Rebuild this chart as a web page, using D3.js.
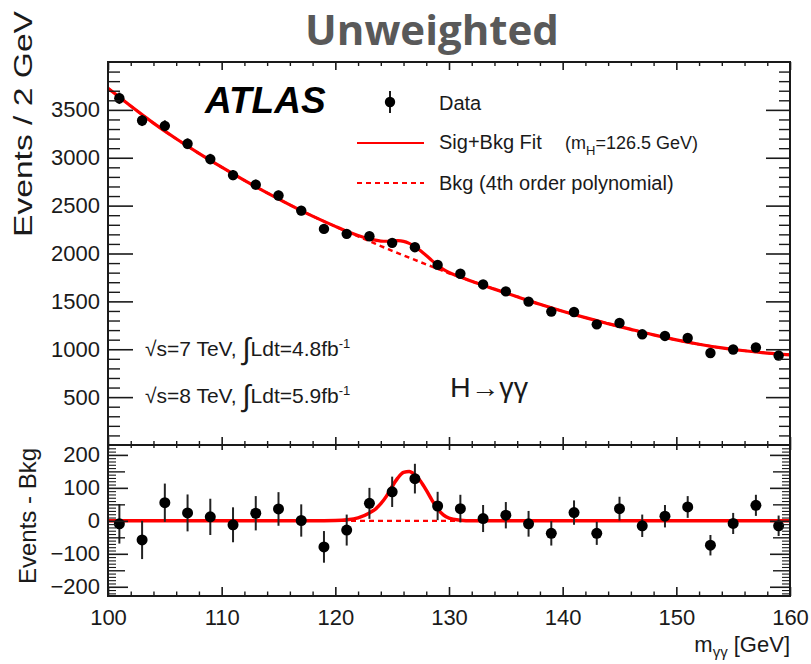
<!DOCTYPE html>
<html>
<head>
<meta charset="utf-8">
<script src="https://cdn.jsdelivr.net/npm/d3@7"></script>
<style>
  body { margin: 0; background: #fff; }
  svg text { font-family: 'Liberation Sans', Arial, Helvetica, sans-serif; }
</style>
</head>
<body>
<svg id="chart" width="811" height="664"></svg>
<script>
// ---- data: diphoton invariant mass, 2 GeV bins ----
const binCenters = [101,103,105,107,109,111,113,115,117,119,121,123,125,127,129,
                    131,133,135,137,139,141,143,145,147,149,151,153,155,157,159];
const eventCounts = [3621,3389,3333,3146,2986,2819,2719,2606,2448,2257,2205,2180,2111,2066,1881,
                     1788,1677,1604,1497,1393,1389,1260,1274,1156,1139,1118,961,997,1018,934];
const countErrors = [60,58,58,56,55,53,52,51,49,48,47,47,46,45,43,
                     42,41,40,39,37,37,35,36,34,34,33,31,32,32,31];
const residuals = [-9,-58,55,24,12,-12,23,36,1,-79,-28,53,88,128,45,
                   37,7,17,-9,-38,25,-38,37,-15,14,42,-74,-8,47,-15];

// ---- fit curves (background polynomial and signal component) ----
const fitMass = [100,102,104,106,108,110,112,114,116,118,120,121,122,123,123.5,124,124.5,125,125.5,
                 126,126.5,127,127.5,128,128.5,129,129.5,130,131,132,134,136,138,140,142,144,146,
                 148,150,152,154,156,158,160];
const bkgFit = [3725,3540,3362,3198,3046,2902,2764,2633,2508,2390,2282,2230,2180,2129,2104,2078,2053,2028,2004,
                1980,1956,1933,1909,1886,1863,1840,1817,1794,1752,1710,1628,1548,1470,1397,1330,1268,1208,
                1150,1098,1052,1014,984,960,942];
const sigFit = [0,0,0,0,0,0,0,0,0,0,1,3,9,24,35,52,75,104,130,
                147,150,140,120,93,63,36,18,8,2,0,0,0,0,0,0,0,0,
                0,0,0,0,0,0,0];

// ---- axis ticks ----
const xTickValues = [100,110,120,130,140,150,160];
const yTopTickValues = [500,1000,1500,2000,2500,3000,3500];
const yBotTickValues = [-200,-100,0,100,200];

// ---- layout ----
const L = 108, R = 790, T = 62, M = 445, B = 596;
const svg = d3.select("#chart");

const x = d3.scaleLinear().domain([100, 160]).range([L, R]);
const yT = d3.scaleLinear().domain([0, 4000]).range([M, T]);
const yB = d3.scaleLinear().domain([-228, 230]).range([B, M]);

const ink = "#1a1a1a";
const red = "#ff0000";

function styleAxis(g, w) {
  g.select(".domain").remove();
  g.selectAll(".tick line").attr("stroke", ink).attr("stroke-width", w);
  g.selectAll(".tick text").attr("fill", ink).style("font-family", "'Liberation Sans', Arial, sans-serif");
}
function tickAxis(axisFn, scale, values, size, tx, ty, w, labels, pad, fs) {
  const a = axisFn(scale).tickValues(values).tickSizeInner(size).tickSizeOuter(0);
  if (labels) a.tickPadding(pad).tickFormat(d3.format("d")); else a.tickFormat("");
  const g = svg.append("g").attr("transform", `translate(${tx},${ty})`).call(a);
  styleAxis(g, w);
  if (labels) g.selectAll(".tick text").attr("font-size", fs);
  return g;
}

const xMinor = d3.range(102, 160, 2).filter(v => v % 10 !== 0);
const yTopMinor = d3.range(100, 4000, 100).filter(v => v % 500 !== 0);
const yTopMajorAll = d3.range(500, 4000, 500);
const yBotMedium = [-150,-50,50,150];
const yBotMinor = d3.range(-220, 230, 10).filter(v => v % 50 !== 0);

// ---- clip regions ----
const defs = svg.append("defs");
defs.append("clipPath").attr("id", "clipTop").append("rect").attr("x", L).attr("y", T).attr("width", R - L).attr("height", M - T);
defs.append("clipPath").attr("id", "clipBot").append("rect").attr("x", L).attr("y", M).attr("width", R - L).attr("height", B - M);

// ---- title ----
svg.append("text").attr("x", 432).attr("y", 45).attr("text-anchor", "middle")
  .style("font-family", "'Open Sans', sans-serif").attr("font-weight", 700)
  .attr("font-size", 42).attr("fill", "#595959").text("Unweighted");

// ---- top panel ----
const lineTop = d3.line().x(d => x(d[0])).y(d => yT(d[1])).curve(d3.curveMonotoneX);
const gTop = svg.append("g").attr("clip-path", "url(#clipTop)");
gTop.append("path").datum(fitMass.map((m, i) => [m, bkgFit[i]]))
  .attr("d", lineTop).attr("fill", "none").attr("stroke", red).attr("stroke-width", 2.5)
  .attr("stroke-dasharray", "5,4");
gTop.append("path").datum(fitMass.map((m, i) => [m, bkgFit[i] + sigFit[i]]))
  .attr("d", lineTop).attr("fill", "none").attr("stroke", red).attr("stroke-width", 3.2);
gTop.selectAll("line.err").data(binCenters).join("line").attr("class", "err")
  .attr("x1", d => x(d)).attr("x2", d => x(d))
  .attr("y1", (d, i) => yT(eventCounts[i] - countErrors[i]))
  .attr("y2", (d, i) => yT(eventCounts[i] + countErrors[i]))
  .attr("stroke", ink).attr("stroke-width", 2);
gTop.selectAll("circle").data(binCenters).join("circle")
  .attr("cx", d => x(d)).attr("cy", (d, i) => yT(eventCounts[i])).attr("r", 5.2).attr("fill", "#000");

// top panel axes
tickAxis(d3.axisLeft, yT, yTopTickValues, -25, L, 0, 1.6, true, 8, 22);
tickAxis(d3.axisLeft, yT, yTopMinor, -12, L, 0, 1.4, false);
tickAxis(d3.axisRight, yT, yTopMajorAll, -24, R, 0, 1.6, false);
tickAxis(d3.axisRight, yT, yTopMinor, -11, R, 0, 1.4, false);
tickAxis(d3.axisTop, x, xTickValues, -8, 0, T, 1.6, false);
tickAxis(d3.axisTop, x, xMinor, -4, 0, T, 1.4, false);
tickAxis(d3.axisBottom, x, xTickValues, -8, 0, M, 1.6, false);
tickAxis(d3.axisBottom, x, xMinor, -4, 0, M, 1.4, false);

svg.append("rect").attr("x", L).attr("y", T).attr("width", R - L).attr("height", M - T)
  .attr("fill", "none").attr("stroke", ink).attr("stroke-width", 2);

// y title
svg.append("text").attr("transform", "translate(32,124) rotate(-90)")
  .attr("text-anchor", "middle").attr("font-size", 25).attr("fill", ink)
  .attr("textLength", 226).attr("lengthAdjust", "spacingAndGlyphs")
  .text("Events / 2 GeV");

// ATLAS label
svg.append("text").attr("x", 205).attr("y", 113).attr("font-size", 37)
  .attr("font-weight", 700).attr("font-style", "italic").attr("fill", "#000").text("ATLAS");

// legend
const lg = svg.append("g");
lg.append("line").attr("x1", 390).attr("x2", 390).attr("y1", 91).attr("y2", 113).attr("stroke", ink).attr("stroke-width", 2);
lg.append("circle").attr("cx", 390).attr("cy", 102).attr("r", 5.2).attr("fill", "#000");
lg.append("text").attr("x", 439).attr("y", 110).attr("font-size", 20).attr("fill", ink).text("Data");
lg.append("line").attr("x1", 357).attr("x2", 424).attr("y1", 143).attr("y2", 143).attr("stroke", red).attr("stroke-width", 2);
const t2 = lg.append("text").attr("x", 439).attr("y", 149).attr("font-size", 20).attr("fill", ink);
t2.append("tspan").text("Sig+Bkg Fit");
t2.append("tspan").attr("x", 565).attr("font-size", 18).text("(m");
t2.append("tspan").attr("font-size", 13).attr("dy", 6).text("H");
t2.append("tspan").attr("font-size", 18).attr("dy", -6).text("=126.5 GeV)");
lg.append("line").attr("x1", 357).attr("x2", 424).attr("y1", 183).attr("y2", 183).attr("stroke", red)
  .attr("stroke-width", 2).attr("stroke-dasharray", "5,4");
lg.append("text").attr("x", 439).attr("y", 190).attr("font-size", 20).attr("fill", ink).text("Bkg (4th order polynomial)");

// energy / luminosity labels
function lumiLabel(y, s, lumi) {
  const t = svg.append("text").attr("x", 145).attr("y", y).attr("font-size", 21).attr("fill", ink);
  t.append("tspan").text(`√s=${s} TeV, `);
  t.append("tspan").attr("font-size", 30).attr("dy", 3).text("∫");
  t.append("tspan").attr("dy", -3).text(`Ldt=${lumi}fb`);
  t.append("tspan").attr("font-size", 13).attr("dy", -8).text("-1");
}
lumiLabel(356, 7, "4.8");
lumiLabel(403, 8, "5.9");

svg.append("text").attr("x", 450).attr("y", 397).attr("font-size", 27).attr("fill", ink)
  .attr("textLength", 78).attr("lengthAdjust", "spacingAndGlyphs").text("H→γγ");

// ---- bottom panel ----
const lineBot = d3.line().x(d => x(d[0])).y(d => yB(d[1])).curve(d3.curveMonotoneX);
const gBot = svg.append("g").attr("clip-path", "url(#clipBot)");
gBot.append("line").attr("x1", x(100)).attr("x2", x(160)).attr("y1", yB(0)).attr("y2", yB(0))
  .attr("stroke", red).attr("stroke-width", 2.2).attr("stroke-dasharray", "5,4");
gBot.append("path").datum(fitMass.map((m, i) => [m, sigFit[i]]))
  .attr("d", lineBot).attr("fill", "none").attr("stroke", red).attr("stroke-width", 3.5);
gBot.selectAll("line.err").data(binCenters).join("line").attr("class", "err")
  .attr("x1", d => x(d)).attr("x2", d => x(d))
  .attr("y1", (d, i) => yB(residuals[i] - countErrors[i]))
  .attr("y2", (d, i) => yB(residuals[i] + countErrors[i]))
  .attr("stroke", "#222").attr("stroke-width", 2);
gBot.selectAll("circle").data(binCenters).join("circle")
  .attr("cx", d => x(d)).attr("cy", (d, i) => yB(residuals[i])).attr("r", 5.5).attr("fill", "#000");

// bottom panel axes
tickAxis(d3.axisLeft, yB, yBotTickValues, -20, L, 0, 1.6, true, 8, 22);
tickAxis(d3.axisLeft, yB, yBotMedium, -17, L, 0, 1.4, false);
tickAxis(d3.axisLeft, yB, yBotMinor, -8, L, 0, 1.1, false);
tickAxis(d3.axisRight, yB, yBotTickValues, -20, R, 0, 1.6, false);
tickAxis(d3.axisRight, yB, yBotMedium, -17, R, 0, 1.4, false);
tickAxis(d3.axisRight, yB, yBotMinor, -8, R, 0, 1.1, false);
tickAxis(d3.axisTop, x, xTickValues, -5, 0, M, 1.6, false);
tickAxis(d3.axisTop, x, xMinor, -3, 0, M, 1.4, false);
tickAxis(d3.axisBottom, x, xTickValues, -9, 0, B, 1.6, true, 13, 22);
tickAxis(d3.axisBottom, x, xMinor, -4.5, 0, B, 1.4, false);

svg.append("rect").attr("x", L).attr("y", M).attr("width", R - L).attr("height", B - M)
  .attr("fill", "none").attr("stroke", ink).attr("stroke-width", 2);

svg.append("text").attr("transform", "translate(36,516) rotate(-90)")
  .attr("text-anchor", "middle").attr("font-size", 24).attr("fill", ink).text("Events - Bkg");

const xt = svg.append("text").attr("x", 790).attr("y", 652).attr("text-anchor", "end")
  .attr("font-size", 22).attr("fill", ink);
xt.append("tspan").text("m");
xt.append("tspan").attr("font-size", 15).attr("dy", 5).text("γγ");
xt.append("tspan").attr("dy", -5).text(" [GeV]");
</script>
</body>
</html>
